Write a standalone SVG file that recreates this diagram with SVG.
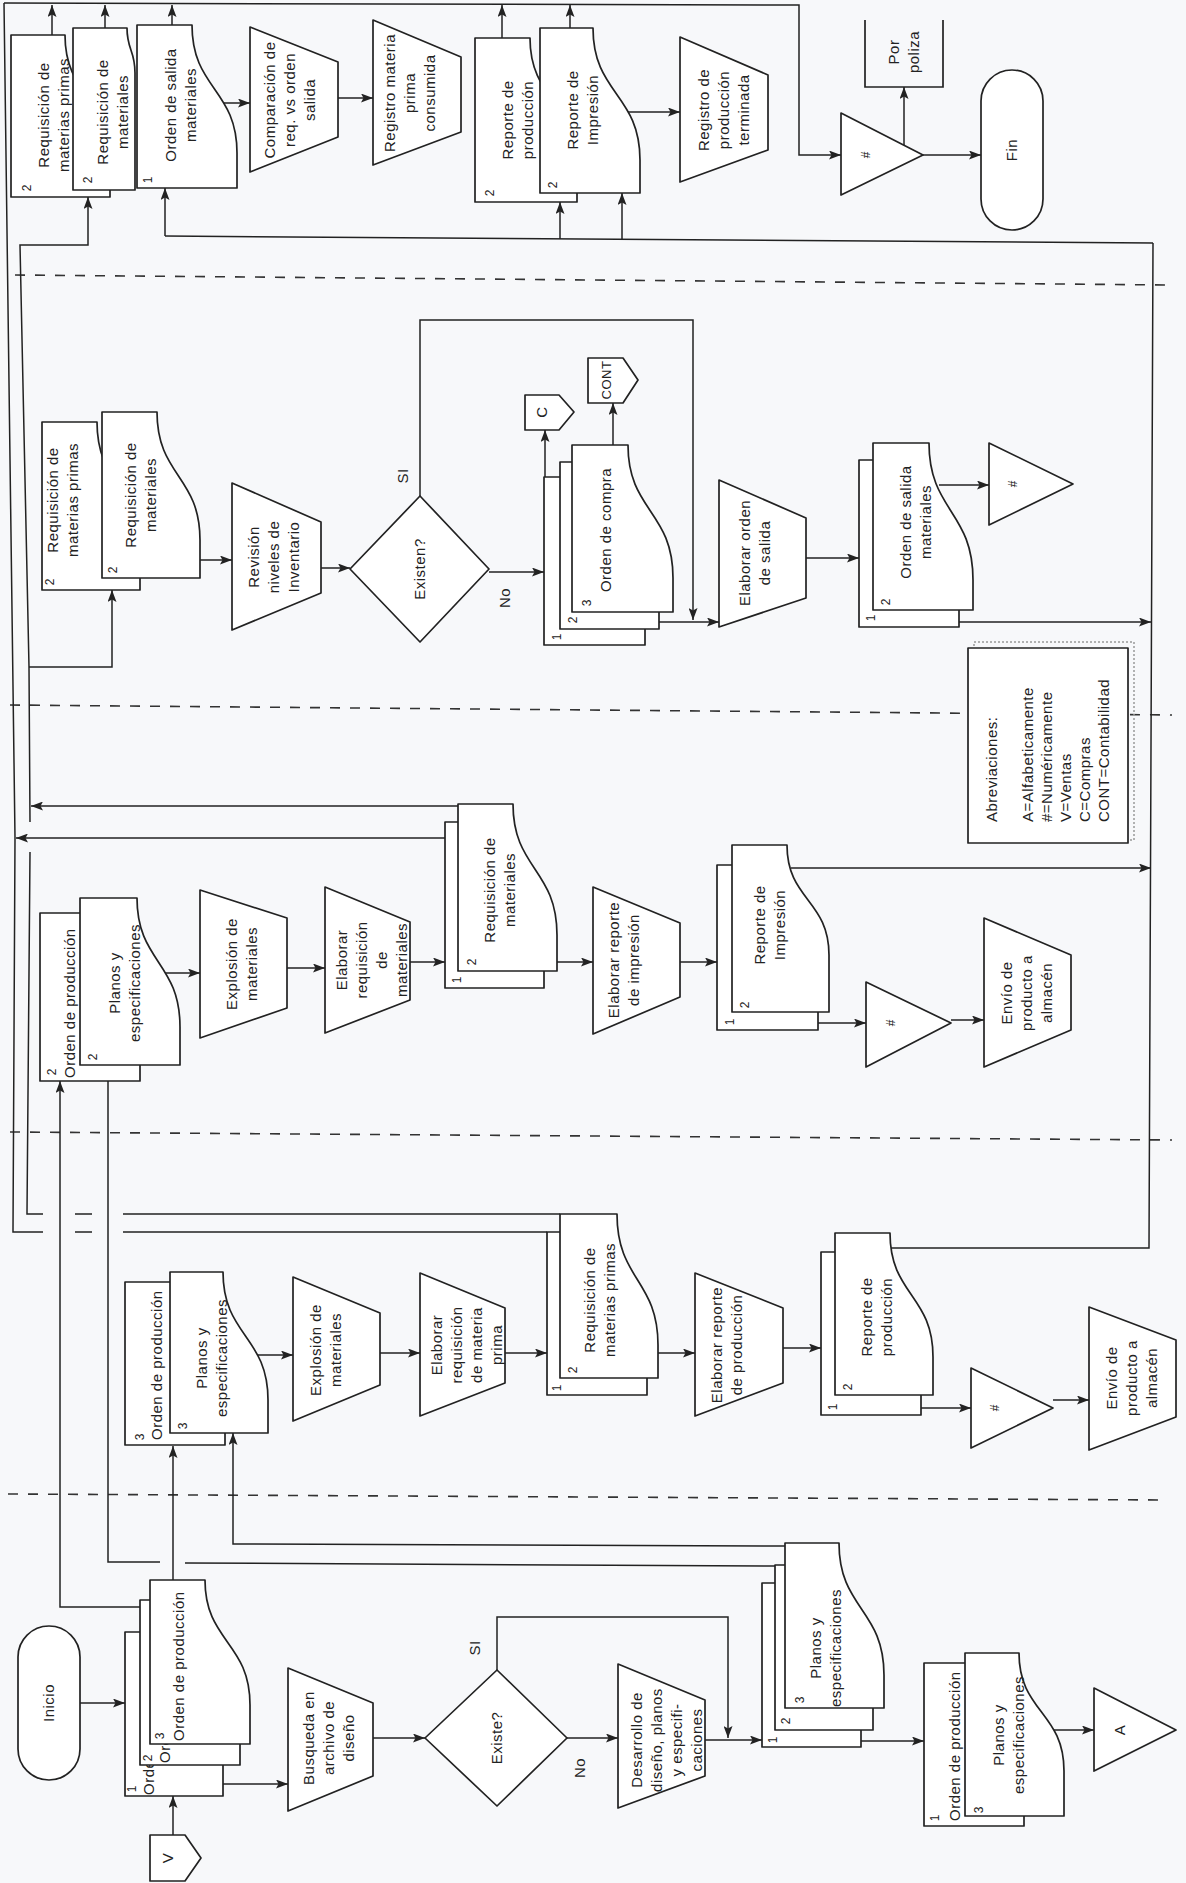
<svg xmlns="http://www.w3.org/2000/svg" width="1186" height="1883" viewBox="0 0 1186 1883">
<defs>
<marker id="ah" viewBox="0 0 12 9" refX="12" refY="4.5" markerWidth="12" markerHeight="9" markerUnits="userSpaceOnUse" orient="auto"><path d="M0,0 L12,4.5 L0,9 L2.5,4.5 z" fill="#222"/></marker>
<style>
.s{fill:#fff;stroke:#222;stroke-width:1.7;stroke-linejoin:round}
.l{fill:none;stroke:#222;stroke-width:1.5}
.a{marker-end:url(#ah)}
.d{fill:none;stroke:#333;stroke-width:1.6;stroke-dasharray:10 10}
text{font-family:"Liberation Sans",Arial,sans-serif;fill:#222}
.t{font-size:15px;text-anchor:middle;letter-spacing:0.5px}
.ts{font-size:15px;text-anchor:start;letter-spacing:0.5px}
.n{font-size:12px;text-anchor:middle}
</style>
</defs>
<rect width="1186" height="1883" fill="#f7f8fa"/>

<g id="lanes">
<path class="d" d="M15 275 L1172 285"/>
<path class="d" d="M10 705 L1172 715"/>
<path class="d" d="M10 1132 L1172 1140"/>
<path class="d" d="M8 1494 L1165 1500"/>
</g>

<g id="connectors">
<!-- lane E -->
<path class="l a" d="M222 103 H250"/>
<path class="l a" d="M338 98 H373"/>
<path class="l a" d="M627 112 H680"/>
<path class="l a" d="M52 35 V5"/>
<path class="l a" d="M105 28 V5"/>
<path class="l a" d="M172 25 V5"/>
<path class="l a" d="M502 38 V5"/>
<path class="l a" d="M570 28 V5"/>
<path class="l a" d="M4 3 L799 5 V155 H841"/>
<path class="l a" d="M923 155 H981"/>
<path class="l a" d="M904 145 V87"/>
<path class="l" d="M1153 243 L165 236"/>
<path class="l a" d="M165 236 V188"/>
<path class="l a" d="M560 239 V202"/>
<path class="l a" d="M622 239 V193"/>
<!-- left buses -->
<path class="l" d="M547 1232 H123 M92 1232 H75 M43 1232 H13 L15 838 L4 3"/>
<path class="l" d="M560 1214 H123 M92 1214 H75 M43 1214 H27 L30 852"/>
<path class="l a" d="M30 822 L29 667 L20 245 H88 V197"/>
<path class="l a" d="M29 667 H112 V590"/>
<path class="l a" d="M458 806 H31"/>
<path class="l a" d="M445 838 H16"/>
<!-- lane D -->
<path class="l a" d="M200 560 H232"/>
<path class="l a" d="M321 568 H350"/>
<path class="l a" d="M420 496 V320 H693 V620"/>
<path class="l a" d="M489 572 H544"/>
<path class="l a" d="M545 477 V430"/>
<path class="l a" d="M613 445 V403"/>
<path class="l a" d="M659 622 H719"/>
<path class="l a" d="M806 558 H859"/>
<path class="l a" d="M939 485 H989"/>
<path class="l a" d="M959 622 H1151"/>
<!-- lane C -->
<path class="l a" d="M164 973 H200"/>
<path class="l a" d="M287 968 H325"/>
<path class="l a" d="M407 962 H445"/>
<path class="l a" d="M557 962 H593"/>
<path class="l a" d="M680 962 H717"/>
<path class="l a" d="M791 868 H1151"/>
<path class="l a" d="M818 1023 H866"/>
<path class="l a" d="M951 1020 H984"/>
<!-- lane B -->
<path class="l a" d="M255 1355 H293"/>
<path class="l a" d="M380 1353 H420"/>
<path class="l a" d="M505 1353 H547"/>
<path class="l a" d="M658 1353 H695"/>
<path class="l a" d="M783 1348 H821"/>
<path class="l" d="M891 1248 H1149 L1153 243"/>
<path class="l a" d="M921 1408 H971"/>
<path class="l a" d="M1053 1400 H1089"/>
<!-- lane A -->
<path class="l a" d="M80 1703 H125"/>
<path class="l a" d="M173 1835 V1796"/>
<path class="l a" d="M223 1784 H288"/>
<path class="l a" d="M373 1738 H425"/>
<path class="l a" d="M497 1670 V1617 H728 V1738"/>
<path class="l a" d="M567 1738 H618"/>
<path class="l a" d="M705 1740 H762"/>
<path class="l a" d="M861 1741 H924"/>
<path class="l a" d="M1051 1730 H1094"/>
<path class="l a" d="M173 1580 V1446"/>
<path class="l a" d="M140 1607 H60 V1081"/>
<path class="l" d="M775 1566 L185 1563"/>
<path class="l a" d="M160 1562 H108 V1065"/>
<path class="l a" d="M785 1546 L233 1544 V1433"/>
</g>

<!-- LANE E -->
<g id="e-req-mp">
<path class="s" d="M11 35 H65 C65 97 110 97 110 160 V197 H11 Z"/>
<text class="t" transform="translate(54 115) rotate(-90)"><tspan x="0" y="-5">Requisición de</tspan><tspan x="0" y="15">materias primas</tspan></text>
<text class="n" transform="translate(27 188) rotate(-90)" y="4">2</text>
</g>
<g id="e-req-mat">
<path class="s" d="M73 28 H127 C127 50 135 50 135 73 V190 H73 Z"/>
<text class="t" transform="translate(113 112) rotate(-90)"><tspan x="0" y="-5">Requisición de</tspan><tspan x="0" y="15">materiales</tspan></text>
<text class="n" transform="translate(88 180) rotate(-90)" y="4">2</text>
</g>
<g id="e-orden-salida">
<path class="s" d="M137 25 H192 C192 89 237 89 237 153 V188 H137 Z"/>
<text class="t" transform="translate(181 105) rotate(-90)"><tspan x="0" y="-5">Orden de salida</tspan><tspan x="0" y="15">materiales</tspan></text>
<text class="n" transform="translate(148 180) rotate(-90)" y="4">1</text>
</g>
<g id="e-comparacion">
<polygon class="s" points="250,27 338,62 338,137 250,172"/>
<text class="t" transform="translate(290 100) rotate(-90)"><tspan x="0" y="-15">Comparación de</tspan><tspan x="0" y="5">req. vs orden</tspan><tspan x="0" y="25">salida</tspan></text>
</g>
<g id="e-registro-mp">
<polygon class="s" points="373,20 461,57 461,132 373,165"/>
<text class="t" transform="translate(410 93) rotate(-90)"><tspan x="0" y="-15">Registro materia</tspan><tspan x="0" y="5">prima</tspan><tspan x="0" y="25">consumida</tspan></text>
</g>
<g id="e-rep-prod">
<path class="s" d="M475 38 H530 C530 101 577 101 577 165 V202 H475 Z"/>
<text class="t" transform="translate(518 120) rotate(-90)"><tspan x="0" y="-5">Reporte de</tspan><tspan x="0" y="15">producción</tspan></text>
<text class="n" transform="translate(490 193) rotate(-90)" y="4">2</text>
</g>
<g id="e-rep-imp">
<path class="s" d="M540 28 H593 C593 94 640 94 640 160 V193 H540 Z"/>
<text class="t" transform="translate(583 110) rotate(-90)"><tspan x="0" y="-5">Reporte de</tspan><tspan x="0" y="15">Impresión</tspan></text>
<text class="n" transform="translate(553 185) rotate(-90)" y="4">2</text>
</g>
<g id="e-registro-pt">
<polygon class="s" points="680,37 768,75 768,150 680,182"/>
<text class="t" transform="translate(724 110) rotate(-90)"><tspan x="0" y="-15">Registro de</tspan><tspan x="0" y="5">producción</tspan><tspan x="0" y="25">terminada</tspan></text>
</g>
<g id="e-archivo">
<polygon class="s" points="841,113 923,155 841,195"/>
<text class="n" transform="translate(866 155) rotate(-90)" y="4">#</text>
</g>
<g id="e-poliza">
<path class="l" style="stroke-width:1.7" d="M865 20 V87 H943 V20"/>
<text class="t" transform="translate(904 52) rotate(-90)"><tspan x="0" y="-5">Por</tspan><tspan x="0" y="15">poliza</tspan></text>
</g>
<g id="e-fin">
<rect class="s" x="981" y="70" width="62" height="160" rx="31"/>
<text class="t" transform="translate(1012 150) rotate(-90)" y="5">Fin</text>
</g>

<!-- LANE D -->
<g id="d-req">
<path class="s" d="M42 422 H97 C97 486 140 486 140 550 V590 H42 Z"/>
<text class="t" transform="translate(63 500) rotate(-90)"><tspan x="0" y="-5">Requisición de</tspan><tspan x="0" y="15">materias primas</tspan></text>
<text class="n" transform="translate(50 582) rotate(-90)" y="4">2</text>
<path class="s" d="M102 412 H157 C157 476 200 476 200 540 V578 H102 Z"/>
<text class="t" transform="translate(141 495) rotate(-90)"><tspan x="0" y="-5">Requisición de</tspan><tspan x="0" y="15">materiales</tspan></text>
<text class="n" transform="translate(113 570) rotate(-90)" y="4">2</text>
</g>
<g id="d-revision">
<polygon class="s" points="232,483 321,522 321,593 232,630"/>
<text class="t" transform="translate(274 557) rotate(-90)"><tspan x="0" y="-15">Revisión</tspan><tspan x="0" y="5">niveles de</tspan><tspan x="0" y="25">Inventario</tspan></text>
</g>
<g id="d-existen">
<polygon class="s" points="350,569 420,496 489,569 420,642"/>
<text class="t" transform="translate(420 569) rotate(-90)" y="5">Existen?</text>
<text class="t" transform="translate(403 476) rotate(-90)" y="5">SI</text>
<text class="t" transform="translate(505 598) rotate(-90)" y="5">No</text>
</g>
<g id="d-orden-compra">
<path class="s" d="M544 477 H599 C599 543 645 543 645 610 V645 H544 Z"/>
<text class="n" transform="translate(557 637) rotate(-90)" y="4">1</text>
<path class="s" d="M560 462 H614 C614 528 659 528 659 595 V629 H560 Z"/>
<text class="n" transform="translate(573 620) rotate(-90)" y="4">2</text>
<path class="s" d="M572 445 H628 C628 511 673 511 673 578 V612 H572 Z"/>
<text class="n" transform="translate(587 603) rotate(-90)" y="4">3</text>
<text class="t" transform="translate(606 530) rotate(-90)" y="5">Orden de compra</text>
</g>
<g id="d-c">
<path class="s" d="M525 395 H559 L574 412 L559 430 H525 Z"/>
<text class="t" transform="translate(542 412) rotate(-90)" y="5">C</text>
</g>
<g id="d-cont">
<path class="s" d="M588 358 H623 L638 380 L623 403 H588 Z"/>
<text class="t" style="font-size:13px" transform="translate(606 380) rotate(-90)" y="5">CONT</text>
</g>
<g id="d-elab-salida">
<polygon class="s" points="719,480 806,518 806,598 719,627"/>
<text class="t" transform="translate(755 553) rotate(-90)"><tspan x="0" y="-5">Elaborar orden</tspan><tspan x="0" y="15">de salida</tspan></text>
</g>
<g id="d-orden-salida">
<path class="s" d="M859 460 H914 C914 526 959 526 959 592 V627 H859 Z"/>
<text class="n" transform="translate(871 618) rotate(-90)" y="4">1</text>
<path class="s" d="M873 443 H929 C929 511 973 511 973 580 V610 H873 Z"/>
<text class="n" transform="translate(886 602) rotate(-90)" y="4">2</text>
<text class="t" transform="translate(916 522) rotate(-90)"><tspan x="0" y="-5">Orden de salida</tspan><tspan x="0" y="15">materiales</tspan></text>
</g>
<g id="d-archivo">
<polygon class="s" points="989,443 1073,484 989,525"/>
<text class="n" transform="translate(1013 484) rotate(-90)" y="4">#</text>
</g>

<!-- LANE C -->
<g id="c-orden-planos">
<path class="s" d="M40 913 H95 C95 979 140 979 140 1045 V1081 H40 Z"/>
<text class="n" transform="translate(52 1072) rotate(-90)" y="4">2</text>
<text class="ts" transform="translate(70 1078) rotate(-90)" y="5">Orden de producción</text>
<path class="s" d="M80 898 H137 C137 962 180 962 180 1027 V1065 H80 Z"/>
<text class="n" transform="translate(93 1057) rotate(-90)" y="4">2</text>
<text class="t" transform="translate(125 983) rotate(-90)"><tspan x="0" y="-5">Planos y</tspan><tspan x="0" y="15">especificaciones</tspan></text>
</g>
<g id="c-explosion">
<polygon class="s" points="200,890 287,918 287,1008 200,1038"/>
<text class="t" transform="translate(242 964) rotate(-90)"><tspan x="0" y="-5">Explosión de</tspan><tspan x="0" y="15">materiales</tspan></text>
</g>
<g id="c-elab-req">
<polygon class="s" points="325,887 410,922 410,1000 325,1033"/>
<text class="t" transform="translate(372 960) rotate(-90)"><tspan x="0" y="-25">Elaborar</tspan><tspan x="0" y="-5">requisición</tspan><tspan x="0" y="15">de</tspan><tspan x="0" y="35">materiales</tspan></text>
</g>
<g id="c-req">
<path class="s" d="M445 822 H500 C500 886 544 886 544 950 V988 H445 Z"/>
<text class="n" transform="translate(457 980) rotate(-90)" y="4">1</text>
<path class="s" d="M458 804 H513 C513 869 557 869 557 935 V971 H458 Z"/>
<text class="n" transform="translate(472 962) rotate(-90)" y="4">2</text>
<text class="t" transform="translate(500 890) rotate(-90)"><tspan x="0" y="-5">Requisición de</tspan><tspan x="0" y="15">materiales</tspan></text>
</g>
<g id="c-elab-rep">
<polygon class="s" points="593,887 680,923 680,997 593,1034"/>
<text class="t" transform="translate(624 960) rotate(-90)"><tspan x="0" y="-5">Elaborar reporte</tspan><tspan x="0" y="15">de impresión</tspan></text>
</g>
<g id="c-rep-imp">
<path class="s" d="M717 865 H772 C772 930 818 930 818 995 V1030 H717 Z"/>
<text class="n" transform="translate(730 1022) rotate(-90)" y="4">1</text>
<path class="s" d="M732 845 H787 C787 900 829 900 829 955 V1012 H732 Z"/>
<text class="n" transform="translate(745 1005) rotate(-90)" y="4">2</text>
<text class="t" transform="translate(770 925) rotate(-90)"><tspan x="0" y="-5">Reporte de</tspan><tspan x="0" y="15">Impresión</tspan></text>
</g>
<g id="c-archivo">
<polygon class="s" points="866,982 951,1023 866,1067"/>
<text class="n" transform="translate(891 1023) rotate(-90)" y="4">#</text>
</g>
<g id="c-envio">
<polygon class="s" points="984,918 1071,955 1071,1030 984,1067"/>
<text class="t" transform="translate(1027 993) rotate(-90)"><tspan x="0" y="-15">Envío de</tspan><tspan x="0" y="5">producto a</tspan><tspan x="0" y="25">almacén</tspan></text>
</g>
<g id="abreviaciones">
<rect x="974" y="642" width="160" height="198" fill="none" stroke="#999" stroke-width="1.5" stroke-dasharray="2 2"/>
<rect class="s" x="968" y="648" width="160" height="195"/>
<text class="ts" transform="translate(992 822) rotate(-90)" y="5">Abreviaciones:</text>
<text class="ts" transform="translate(1028 822) rotate(-90)" y="5">A=Alfabeticamente</text>
<text class="ts" transform="translate(1047 822) rotate(-90)" y="5">#=Numéricamente</text>
<text class="ts" transform="translate(1066 822) rotate(-90)" y="5">V=Ventas</text>
<text class="ts" transform="translate(1085 822) rotate(-90)" y="5">C=Compras</text>
<text class="ts" transform="translate(1104 822) rotate(-90)" y="5">CONT=Contabilidad</text>
</g>

<!-- LANE B -->
<g id="b-orden-planos">
<path class="s" d="M125 1282 H180 C180 1346 225 1346 225 1410 V1445 H125 Z"/>
<text class="n" transform="translate(140 1437) rotate(-90)" y="4">3</text>
<text class="ts" transform="translate(157 1440) rotate(-90)" y="5">Orden de producción</text>
<path class="s" d="M170 1272 H223 C223 1336 268 1336 268 1400 V1433 H170 Z"/>
<text class="n" transform="translate(183 1426) rotate(-90)" y="4">3</text>
<text class="t" transform="translate(212 1358) rotate(-90)"><tspan x="0" y="-5">Planos y</tspan><tspan x="0" y="15">especificaciones</tspan></text>
</g>
<g id="b-explosion">
<polygon class="s" points="293,1277 380,1313 380,1385 293,1421"/>
<text class="t" transform="translate(326 1350) rotate(-90)"><tspan x="0" y="-5">Explosión de</tspan><tspan x="0" y="15">materiales</tspan></text>
</g>
<g id="b-elab-req">
<polygon class="s" points="420,1273 505,1308 505,1383 420,1416"/>
<text class="t" transform="translate(467 1345) rotate(-90)"><tspan x="0" y="-25">Elaborar</tspan><tspan x="0" y="-5">requisición</tspan><tspan x="0" y="15">de materia</tspan><tspan x="0" y="35">prima</tspan></text>
</g>
<g id="b-req">
<path class="s" d="M547 1232 H602 C602 1296 647 1296 647 1360 V1395 H547 Z"/>
<text class="n" transform="translate(557 1388) rotate(-90)" y="4">1</text>
<path class="s" d="M560 1214 H617 C617 1280 658 1280 658 1345 V1378 H560 Z"/>
<text class="n" transform="translate(573 1370) rotate(-90)" y="4">2</text>
<text class="t" transform="translate(600 1300) rotate(-90)"><tspan x="0" y="-5">Requisición de</tspan><tspan x="0" y="15">materias primas</tspan></text>
</g>
<g id="b-elab-rep">
<polygon class="s" points="695,1273 783,1308 783,1383 695,1416"/>
<text class="t" transform="translate(727 1345) rotate(-90)"><tspan x="0" y="-5">Elaborar reporte</tspan><tspan x="0" y="15">de producción</tspan></text>
</g>
<g id="b-rep-prod">
<path class="s" d="M821 1252 H876 C876 1316 921 1316 921 1380 V1415 H821 Z"/>
<text class="n" transform="translate(833 1407) rotate(-90)" y="4">1</text>
<path class="s" d="M835 1233 H890 C890 1295 933 1295 933 1357 V1395 H835 Z"/>
<text class="n" transform="translate(848 1387) rotate(-90)" y="4">2</text>
<text class="t" transform="translate(877 1317) rotate(-90)"><tspan x="0" y="-5">Reporte de</tspan><tspan x="0" y="15">producción</tspan></text>
</g>
<g id="b-archivo">
<polygon class="s" points="971,1368 1053,1408 971,1448"/>
<text class="n" transform="translate(995 1408) rotate(-90)" y="4">#</text>
</g>
<g id="b-envio">
<polygon class="s" points="1089,1307 1176,1340 1176,1417 1089,1450"/>
<text class="t" transform="translate(1132 1378) rotate(-90)"><tspan x="0" y="-15">Envío de</tspan><tspan x="0" y="5">producto a</tspan><tspan x="0" y="25">almacén</tspan></text>
</g>

<!-- LANE A -->
<g id="a-inicio">
<rect class="s" x="18" y="1626" width="62" height="154" rx="31"/>
<text class="t" transform="translate(49 1703) rotate(-90)" y="5">Inicio</text>
</g>
<g id="a-v">
<path class="s" d="M150 1835 H185 L201 1858 L185 1881 H150 Z"/>
<text class="t" transform="translate(168 1858) rotate(-90)" y="5">V</text>
</g>
<g id="a-orden">
<path class="s" d="M125 1632 H180 C180 1696 223 1696 223 1760 V1796 H125 Z"/>
<text class="n" transform="translate(132 1789) rotate(-90)" y="4">1</text>
<text class="ts" transform="translate(149 1795) rotate(-90)" y="5">Orden de producción</text>
<path class="s" d="M140 1600 H195 C195 1664 240 1664 240 1728 V1765 H140 Z"/>
<text class="n" transform="translate(148 1758) rotate(-90)" y="4">2</text>
<text class="ts" transform="translate(165 1763) rotate(-90)" y="5">Orden de producción</text>
<path class="s" d="M150 1580 H205 C205 1642 250 1642 250 1705 V1744 H150 Z"/>
<text class="n" transform="translate(160 1736) rotate(-90)" y="4">3</text>
<text class="ts" transform="translate(179 1741) rotate(-90)" y="5">Orden de producción</text>
</g>
<g id="a-busqueda">
<polygon class="s" points="288,1668 373,1703 373,1776 288,1811"/>
<text class="t" transform="translate(329 1738) rotate(-90)"><tspan x="0" y="-15">Busqueda en</tspan><tspan x="0" y="5">archivo de</tspan><tspan x="0" y="25">diseño</tspan></text>
</g>
<g id="a-existe">
<polygon class="s" points="425,1738 497,1670 567,1738 497,1806"/>
<text class="t" transform="translate(497 1738) rotate(-90)" y="5">Existe?</text>
<text class="t" transform="translate(475 1648) rotate(-90)" y="5">SI</text>
<text class="t" transform="translate(580 1768) rotate(-90)" y="5">No</text>
</g>
<g id="a-desarrollo">
<polygon class="s" points="618,1664 705,1700 705,1776 618,1808"/>
<text class="t" transform="translate(667 1740) rotate(-90)"><tspan x="0" y="-25">Desarrollo de</tspan><tspan x="0" y="-5">diseño, planos</tspan><tspan x="0" y="15">y especifi-</tspan><tspan x="0" y="35">caciones</tspan></text>
</g>
<g id="a-planos">
<path class="s" d="M762 1583 H817 C817 1646 861 1646 861 1710 V1747 H762 Z"/>
<text class="n" transform="translate(773 1740) rotate(-90)" y="4">1</text>
<path class="s" d="M775 1565 H830 C830 1629 873 1629 873 1693 V1730 H775 Z"/>
<text class="n" transform="translate(786 1721) rotate(-90)" y="4">2</text>
<path class="s" d="M785 1543 H839 C839 1609 884 1609 884 1675 V1708 H785 Z"/>
<text class="n" transform="translate(800 1700) rotate(-90)" y="4">3</text>
<text class="t" transform="translate(826 1648) rotate(-90)"><tspan x="0" y="-5">Planos y</tspan><tspan x="0" y="15">especificaciones</tspan></text>
</g>
<g id="a-orden-planos">
<path class="s" d="M924 1663 H979 C979 1726 1024 1726 1024 1790 V1826 H924 Z"/>
<text class="n" transform="translate(935 1818) rotate(-90)" y="4">1</text>
<text class="ts" transform="translate(955 1821) rotate(-90)" y="5">Orden de producción</text>
<path class="s" d="M965 1653 H1019 C1019 1712 1064 1712 1064 1771 V1816 H965 Z"/>
<text class="n" transform="translate(979 1810) rotate(-90)" y="4">3</text>
<text class="t" transform="translate(1009 1735) rotate(-90)"><tspan x="0" y="-5">Planos y</tspan><tspan x="0" y="15">especificaciones</tspan></text>
</g>
<g id="a-archivo">
<polygon class="s" points="1094,1688 1176,1730 1094,1771"/>
<text class="t" transform="translate(1120 1730) rotate(-90)" y="5">A</text>
</g>
</svg>
